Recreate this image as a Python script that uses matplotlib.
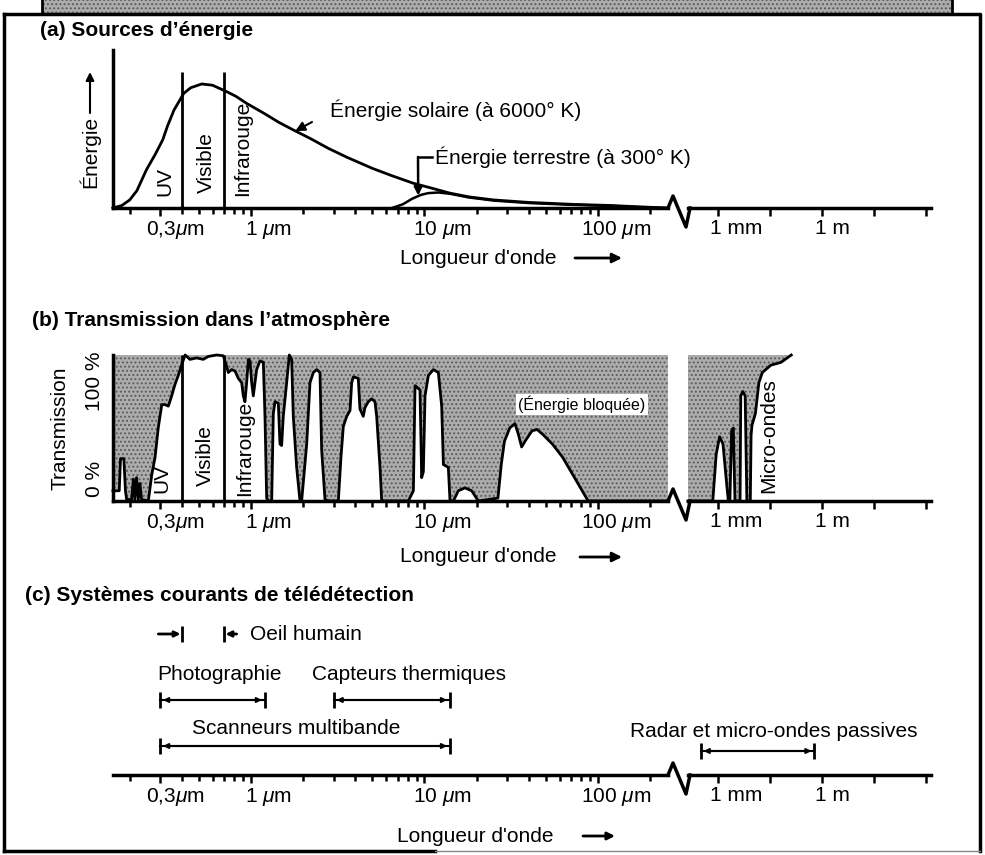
import numpy as np
import matplotlib.pyplot as plt
from matplotlib.lines import Line2D
from matplotlib.patches import Rectangle, FancyArrowPatch
from matplotlib.ticker import FixedLocator, NullFormatter

plt.rcParams['font.family'] = ['Liberation Sans', 'DejaVu Sans']
plt.rcParams['mathtext.fontset'] = 'custom'
plt.rcParams['mathtext.rm'] = 'Liberation Sans'
plt.rcParams['mathtext.it'] = 'Liberation Sans:italic'
plt.rcParams['hatch.linewidth'] = 0.9

# ---- data (wavelengths in micrometres) ----
band_edges = [0.4, 0.7]          # UV | visible | infrared

# (a) emitted energy, relative to the solar peak
solar_wl = [0.160, 0.18, 0.20, 0.22, 0.25, 0.28, 0.31, 0.33, 0.36, 0.41,
            0.45, 0.52, 0.60, 0.72, 0.82, 0.94, 1.2, 1.45, 1.75, 2.2,
            2.8, 3.56, 5.0, 6.5, 8.6, 11, 14, 18, 25, 40,
            70, 120, 170, 250]
solar_e = [0, 0.02, 0.065, 0.14, 0.31, 0.43, 0.55, 0.66, 0.79, 0.925,
           0.97, 1.0, 0.99, 0.94, 0.90, 0.845, 0.76, 0.69, 0.63, 0.56,
           0.48, 0.41, 0.32, 0.26, 0.20, 0.16, 0.12, 0.09, 0.065, 0.045,
           0.03, 0.02, 0.01, 0]
earth_wl = [6.5, 7.5, 8.5, 9.5, 10.5, 12, 14, 18, 25, 40, 70, 120, 170, 250]
earth_e = [0, 0.03, 0.075, 0.105, 0.12, 0.125, 0.115, 0.085, 0.06, 0.04,
           0.026, 0.016, 0.007, 0]

# (b) atmospheric transmission (%)
trans_wl = [0.160, 0.174, 0.177, 0.185, 0.189, 0.192, 0.205, 0.210, 0.214, 0.219, 0.224, 0.229, 0.234, 0.256,
            0.268, 0.280, 0.292, 0.306, 0.319, 0.334, 0.349, 0.365, 0.381, 0.398, 0.417,
            0.445, 0.486, 0.531, 0.567, 0.634, 0.692, 0.724,
            0.740, 0.774, 0.809, 0.845, 0.884, 0.903, 0.923, 0.944, 0.966, 0.987, 1.009, 1.031, 1.078, 1.127, 1.178, 1.204, 1.231, 1.259,
            1.316, 1.345, 1.375, 1.437, 1.469, 1.502, 1.535, 1.605, 1.663, 1.715, 1.753, 1.833, 1.916,
            1.959, 2.094, 2.188, 2.287, 2.390, 2.498, 2.554, 2.670, 2.791,
            3.187, 3.30, 3.405, 3.562, 3.722, 3.805, 3.890, 4.153, 4.246, 4.438, 4.538, 4.744, 4.959, 5.184, 5.301, 5.541, 5.666,
            8.07, 8.63, 8.82, 9.02, 9.42, 9.63, 9.85, 10.07, 10.53, 11.25, 12.02, 12.56, 12.85, 13.72, 14.03,
            14.66, 15.66, 17.11, 18.71, 20.43,
            26.5, 27.7, 28.9, 31.0, 33.2, 34.7, 36.3, 38.0, 41.6, 44.5, 47.7, 54.6, 62.5, 71.6, 82.0, 87.8, 253]
trans_pct = [7, 7, 29, 29, 7, 1, 1, 15, 1, 16, 1, 12, 1, 0,
             18, 30, 50, 66, 66, 65, 72, 80, 86, 93, 100,
             97, 98, 97, 99, 100, 99.5, 92,
             88, 90, 89, 84, 81, 72, 68, 81, 97, 96, 81, 72, 90, 96, 95, 58, 2, 0,
             0, 60, 68, 67, 39, 38, 58, 81, 100, 97, 58, 23, 0,
             0, 39, 81, 88, 90, 88, 35, 1, 0,
             0, 30, 51, 58, 62, 81, 85, 84, 63, 58, 64, 68, 70, 68, 58, 23, 0,
             0, 7, 79, 78, 76, 16, 20, 72, 86, 90, 88, 65, 25, 23, 0,
             0, 7, 9, 7, 0,
             2, 25, 41, 50, 53, 46, 37, 41, 48, 49, 46, 39, 30, 18, 6, 0, 0]
micro_wl = [136, 708, 887, 1112, 1393, 1758, 1968, 2203, 2466, 2761, 3090, 4335, 4540,
            5190, 6080, 6810, 8550, 9000, 9580, 12000, 15100, 18970, 33300, 66000, 1.3e5]
micro_pct = [0, 0, 32, 44, 39, 13, 1, 0, 48, 50, 0, 0, 72,
             75, 72, 0, 0, 45, 52, 60, 81, 88, 93, 95, 100]

# (c) common remote sensing systems (ranges in µm)
systems = ['Photographie', 'Capteurs thermiques', 'Scanneurs multibande',
           'Radar et micro-ondes passives']
sys_min = [0.3, 3.0, 0.3, 320.0]
sys_max = [1.2, 14.0, 14.0, 6.0e5]
eye_range = [0.4, 0.7]

left_ticks = [0.3, 1, 10, 100]
left_labels = ['0,3$\\mu$m', '1 $\\mu$m', '10 $\\mu$m', '100 $\\mu$m']
left_minor = [0.2, 0.4, 0.5, 0.6, 0.7, 0.8, 0.9] + list(range(2, 10)) + list(range(20, 100, 10)) + [200]
right_ticks = [1e3, 10**4.5, 1e6, 10**7.5, 1e9]
right_labels = ['1 mm', '', '1 m', '', '']

# ---- layout helpers (figure pixels, y downwards) ----
W, H = 985, 855
SHADE = '#acacac'
HATCH = '#5a5a5a'
FS = 15
fig = plt.figure(figsize=(W / 100, H / 100), dpi=100)


def px_axes(x0, y0, x1, y1):
    ax = fig.add_axes([x0 / W, 1 - y1 / H, (x1 - x0) / W, (y1 - y0) / H])
    ax.set_facecolor('none')
    return ax


def ftext(x, y, s, **kw):
    kw.setdefault('fontsize', FS)
    kw.setdefault('va', 'center')
    return fig.text(x / W, 1 - y / H, s, **kw)


def fline(xs, ys, **kw):
    kw.setdefault('color', 'k')
    kw.setdefault('lw', 2)
    fig.add_artist(Line2D(np.array(xs) / W, 1 - np.array(ys) / H,
                          transform=fig.transFigure, **kw))


def farrow(x0, y0, x1, y1, ms=14, lw=2):
    fig.add_artist(FancyArrowPatch((x0 / W, 1 - y0 / H), (x1 / W, 1 - y1 / H),
                                   transform=fig.transFigure, arrowstyle='-|>',
                                   mutation_scale=ms, lw=lw, color='k',
                                   shrinkA=0, shrinkB=0))


def style_axis(ax, lim, major, labels, minor, offsets):
    ax.set_xscale('log')
    ax.set_xlim(lim)
    for s in ['top', 'right', 'left']:
        ax.spines[s].set_visible(False)
    ax.spines['bottom'].set_linewidth(2.5)
    ax.xaxis.set_major_locator(FixedLocator(major))
    ax.xaxis.set_minor_locator(FixedLocator(minor))
    ax.xaxis.set_major_formatter(NullFormatter())
    ax.xaxis.set_minor_formatter(NullFormatter())
    ax.tick_params(axis='x', which='major', direction='out', length=6, width=1.8)
    ax.tick_params(axis='x', which='minor', direction='out', length=4.5, width=1.8)
    ax.set_yticks([])
    for t, lab, off in zip(major, labels, offsets):
        if lab:
            ax.annotate(lab, xy=(t, 0), xycoords=('data', 'axes fraction'),
                        xytext=(off, -8), textcoords='offset points',
                        ha='left', va='top', fontsize=FS)


def wave_pair(y0, y1):
    axl = px_axes(113, y0, 668, y1)
    axr = px_axes(688, y0, 931, y1)
    style_axis(axl, (0.1602, 253.2), left_ticks, left_labels, left_minor,
               [-10.4, -4.2, -8.3, -12.5])
    style_axis(axr, (136.4, 1.392e9), right_ticks, right_labels, [],
               [-6, 0, -5, 0, 0])
    # axis break
    fline([668, 673, 686, 690], [y1, y1 - 12, y1 + 19, y1], lw=2.5)
    return axl, axr


# ---- frame ----
fig.add_artist(Rectangle((42 / W, 1 - 13 / H), 910 / W, 13 / H, transform=fig.transFigure,
                         facecolor=SHADE, hatch='....', edgecolor=HATCH, lw=0))
fline([42, 42], [0, 13])
fline([952, 952], [0, 13])
fline([4, 980, 980], [14, 14, 851], lw=2.5)
fline([4, 4], [14, 851], lw=2.5)
fline([4, 435], [851, 851], lw=2.5)
fline([435, 980], [851, 851], lw=1, color='#888888')

# ---- (a) Sources d'énergie ----
ftext(40, 30, '(a) Sources d’énergie', fontweight='bold')
aL, aR = wave_pair(50, 208)
for ax in (aL, aR):
    ax.set_ylim(0, 1.274)
aL.spines['left'].set_visible(True)
aL.spines['left'].set_linewidth(2.5)
aL.plot(solar_wl, solar_e, color='k', lw=2, clip_on=False)
aL.plot(earth_wl, earth_e, color='k', lw=1.8, clip_on=False)
aL.vlines(band_edges, 0, 1.10, colors='k', lw=2)

ftext(90, 152, 'Énergie', rotation=90, ha='center')
farrow(90, 113, 90, 72, ms=12, lw=1.5)
ftext(165, 182, 'UV', rotation=90, ha='center')
ftext(206, 163, 'Visible', rotation=90, ha='center')
ftext(243, 148, 'Infrarouge', rotation=90, ha='center')

ftext(330, 110, 'Énergie solaire (à 6000° K)')
aL.annotate('', xy=(1.8, 0.62), xytext=(312 / W, 1 - 122 / H), textcoords='figure fraction',
            arrowprops=dict(arrowstyle='-|>', lw=1.5, color='k', mutation_scale=14,
                            shrinkA=0, shrinkB=0))
ftext(435, 157, 'Énergie terrestre (à 300° K)')
fline([432, 418], [157, 157], lw=1.8)
aL.annotate('', xy=(9.2, 0.10), xytext=(418 / W, 1 - 157 / H), textcoords='figure fraction',
            arrowprops=dict(arrowstyle='-|>', lw=1.8, color='k', mutation_scale=12,
                            shrinkA=0, shrinkB=0))
ftext(400, 258, "Longueur d'onde")
farrow(575, 258, 622, 258)

# ---- (b) Transmission dans l'atmosphère ----
ftext(32, 320, '(b) Transmission dans l’atmosphère', fontweight='bold')
bL, bR = wave_pair(355, 501)
for ax in (bL, bR):
    ax.set_ylim(0, 100)
bL.spines['left'].set_visible(True)
bL.spines['left'].set_linewidth(2.5)
bL.fill_between(trans_wl, trans_pct, 100, facecolor=SHADE, hatch='....',
                edgecolor=HATCH, lw=0)
bL.plot(trans_wl, trans_pct, color='k', lw=2, clip_on=False)
bL.vlines(band_edges, 0, 100, colors='k', lw=2)
bR.fill_between(micro_wl, micro_pct, 100, facecolor=SHADE, hatch='....',
                edgecolor=HATCH, lw=0)
bR.plot(micro_wl, micro_pct, color='k', lw=2, clip_on=False)

ftext(60, 428, 'Transmission', rotation=90, ha='center')
ftext(95, 381, '100 %', rotation=90, ha='center')
ftext(95, 479, '0 %', rotation=90, ha='center')
ftext(162, 478, 'UV', rotation=90, ha='center')
ftext(205, 456, 'Visible', rotation=90, ha='center')
ftext(245, 448, 'Infrarouge', rotation=90, ha='center')
bL.text(81, 66, '(Énergie bloquée)', ha='center', va='center', fontsize=11.5,
        bbox=dict(facecolor='white', edgecolor='none', pad=1.5))
bR.text(2.9e4, 45, 'Micro-ondes', rotation=90, ha='center', va='center', fontsize=FS)
ftext(400, 557, "Longueur d'onde")
farrow(580, 557, 622, 557)

# ---- (c) Systèmes courants de télédétection ----
ftext(25, 595, '(c) Systèmes courants de télédétection', fontweight='bold')
cL, cR = wave_pair(600, 775)
for ax in (cL, cR):
    ax.set_ylim(775, 600)

# rows (pixel y) and label anchors for each system
bar_rows = [700, 700, 746, 751]
label_pos = [(157, 674), (312, 674), (192, 728), (630, 731)]
for name, lo, hi, yb, (lx, ly) in zip(systems, sys_min, sys_max, bar_rows, label_pos):
    ax = cL if hi < 253 else cR
    ax.plot([lo, hi], [yb, yb], color='k', lw=1.5, marker='|', markersize=11, mew=2)
    ax.annotate('', xy=(hi, yb), xytext=(lo, yb),
                arrowprops=dict(arrowstyle='<|-|>', lw=1.5, color='k',
                                mutation_scale=7, shrinkA=2, shrinkB=2))
    ftext(lx, ly, name)

eye_y = 634
cL.plot(eye_range, [eye_y, eye_y], ls='none', marker='|', markersize=11, mew=2, color='k')
cL.annotate('', xy=(eye_range[0], eye_y), xytext=(-17, 0), textcoords='offset points',
            arrowprops=dict(arrowstyle='-|>', lw=2, color='k', mutation_scale=8,
                            shrinkA=0, shrinkB=1))
cL.annotate('', xy=(eye_range[1], eye_y), xytext=(9, 0), textcoords='offset points',
            arrowprops=dict(arrowstyle='-|>', lw=2, color='k', mutation_scale=8,
                            shrinkA=0, shrinkB=1))
ftext(250, eye_y, 'Oeil humain')
ftext(397, 836, "Longueur d'onde")
farrow(583, 836, 615, 836, ms=11)

fig.savefig('out.png', dpi=100)
